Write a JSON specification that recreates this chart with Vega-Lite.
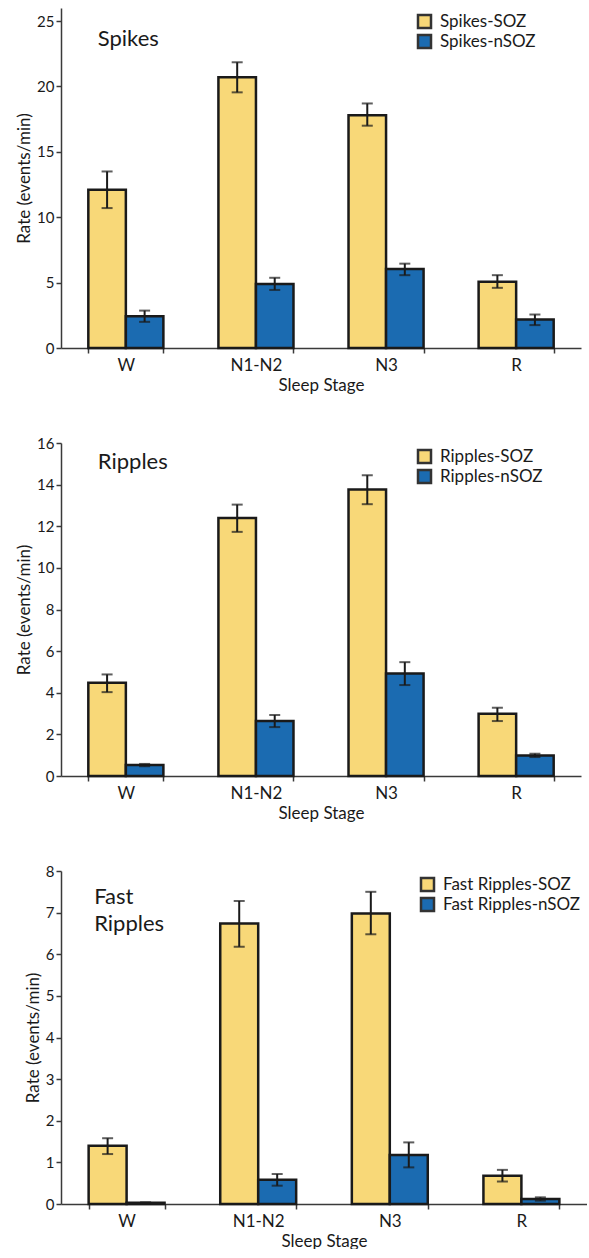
{
  "$schema": "https://vega.github.io/schema/vega-lite/v6.json",
  "background": "white",
  "padding": {"left": 15, "top": 8, "right": 0, "bottom": 0},
  "spacing": 43,
  "resolve": {"scale": {"fill": "independent", "y": "independent", "x": "independent", "xOffset": "independent"}},
  "config": {
    "font": "Lato",
    "view": {"stroke": null},
    "axis": {"grid": false, "domainColor": "#3a3a3a", "tickColor": "#3a3a3a", "domainWidth": 1.5, "tickWidth": 1.5, "labelColor": "#1a1a1a", "titleColor": "#1a1a1a", "labelFont": "Lato", "titleFont": "Lato", "titleFontWeight": "normal", "titleFontSize": 17},
    "axisX": {"labelAngle": 0, "tickSize": 5, "labelPadding": 4, "titlePadding": 4, "tickBand": "extent", "labelFontSize": 17},
    "axisY": {"tickSize": 5, "labelPadding": 2, "titlePadding": 3, "labelFontSize": 15},
    "legend": {"orient": "none", "legendX": 355, "legendY": 5, "title": null, "symbolType": "square", "symbolSize": 169, "symbolStrokeColor": "#333", "symbolStrokeWidth": 1.5, "labelFont": "Lato", "labelFontSize": 17, "labelColor": "#1a1a1a", "rowPadding": -6, "labelOffset": 7},
    "bar": {"stroke": "#1a1a1a", "strokeWidth": 2.5},
    "rule": {"color": "#1a1a1a", "strokeWidth": 2},
    "tick": {"color": "#1a1a1a", "thickness": 2, "size": 11},
    "text": {"font": "Lato", "fontSize": 22, "color": "#1a1a1a", "align": "left", "baseline": "alphabetic", "lineHeight": 27}
  },
  "vconcat": [
    {
      "width": 520, "height": 340,
      "data": {"values": [
        {"stage": "W", "series": "Spikes-SOZ", "rate": 12.1, "lo": 10.7, "hi": 13.5},
        {"stage": "W", "series": "Spikes-nSOZ", "rate": 2.43, "lo": 2.0, "hi": 2.86},
        {"stage": "N1-N2", "series": "Spikes-SOZ", "rate": 20.7, "lo": 19.55, "hi": 21.85},
        {"stage": "N1-N2", "series": "Spikes-nSOZ", "rate": 4.9, "lo": 4.44, "hi": 5.37},
        {"stage": "N3", "series": "Spikes-SOZ", "rate": 17.8, "lo": 17.0, "hi": 18.7},
        {"stage": "N3", "series": "Spikes-nSOZ", "rate": 6.05, "lo": 5.57, "hi": 6.45},
        {"stage": "R", "series": "Spikes-SOZ", "rate": 5.07, "lo": 4.6, "hi": 5.57},
        {"stage": "R", "series": "Spikes-nSOZ", "rate": 2.18, "lo": 1.75, "hi": 2.56}
      ]},
      "encoding": {
        "x": {"field": "stage", "type": "nominal", "sort": ["W", "N1-N2", "N3", "R"], "scale": {"paddingInner": 0.423, "paddingOuter": 0.21}, "axis": {"title": "Sleep Stage"}}
      },
      "layer": [
        {"mark": {"type": "bar"}, "encoding": {
          "xOffset": {"field": "series", "type": "nominal", "sort": ["Spikes-SOZ", "Spikes-nSOZ"], "scale": {"paddingInner": 0, "paddingOuter": 0}},
          "y": {"field": "rate", "type": "quantitative", "scale": {"domain": [0, 25]}, "axis": {"values": [0, 5, 10, 15, 20, 25], "title": "Rate (events/min)"}},
          "fill": {"field": "series", "type": "nominal", "sort": ["Spikes-SOZ", "Spikes-nSOZ"], "scale": {"domain": ["Spikes-SOZ", "Spikes-nSOZ"], "range": ["#F8D878", "#1B6BB1"]}}
        }},
        {"mark": {"type": "rule"}, "encoding": {"xOffset": {"field": "series", "type": "nominal", "sort": ["Spikes-SOZ", "Spikes-nSOZ"]}, "y": {"field": "lo", "type": "quantitative"}, "y2": {"field": "hi"}}},
        {"mark": {"type": "tick"}, "encoding": {"xOffset": {"field": "series", "type": "nominal", "sort": ["Spikes-SOZ", "Spikes-nSOZ"]}, "y": {"field": "lo", "type": "quantitative"}}},
        {"mark": {"type": "tick"}, "encoding": {"xOffset": {"field": "series", "type": "nominal", "sort": ["Spikes-SOZ", "Spikes-nSOZ"]}, "y": {"field": "hi", "type": "quantitative"}}},
        {"data": {"values": [{"label": "Spikes"}]}, "mark": {"type": "text", "dx": 9.5}, "encoding": {"text": {"field": "label"}, "x": {"datum": "W", "bandPosition": 0}, "y": {"datum": 23.1, "type": "quantitative"}}}
      ]
    },
    {
      "width": 520, "height": 333,
      "data": {"values": [
        {"stage": "W", "series": "Ripples-SOZ", "rate": 4.48, "lo": 4.03, "hi": 4.88},
        {"stage": "W", "series": "Ripples-nSOZ", "rate": 0.53, "lo": 0.47, "hi": 0.58},
        {"stage": "N1-N2", "series": "Ripples-SOZ", "rate": 12.4, "lo": 11.73, "hi": 13.04},
        {"stage": "N1-N2", "series": "Ripples-nSOZ", "rate": 2.64, "lo": 2.35, "hi": 2.93},
        {"stage": "N3", "series": "Ripples-SOZ", "rate": 13.76, "lo": 13.06, "hi": 14.45},
        {"stage": "N3", "series": "Ripples-nSOZ", "rate": 4.93, "lo": 4.37, "hi": 5.47},
        {"stage": "R", "series": "Ripples-SOZ", "rate": 2.99, "lo": 2.64, "hi": 3.28},
        {"stage": "R", "series": "Ripples-nSOZ", "rate": 0.99, "lo": 0.91, "hi": 1.07}
      ]},
      "encoding": {
        "x": {"field": "stage", "type": "nominal", "sort": ["W", "N1-N2", "N3", "R"], "scale": {"paddingInner": 0.423, "paddingOuter": 0.21}, "axis": {"title": "Sleep Stage"}}
      },
      "layer": [
        {"mark": {"type": "bar"}, "encoding": {
          "xOffset": {"field": "series", "type": "nominal", "sort": ["Ripples-SOZ", "Ripples-nSOZ"], "scale": {"paddingInner": 0, "paddingOuter": 0}},
          "y": {"field": "rate", "type": "quantitative", "scale": {"domain": [0, 16]}, "axis": {"values": [0, 2, 4, 6, 8, 10, 12, 14, 16], "title": "Rate (events/min)"}},
          "fill": {"field": "series", "type": "nominal", "sort": ["Ripples-SOZ", "Ripples-nSOZ"], "scale": {"domain": ["Ripples-SOZ", "Ripples-nSOZ"], "range": ["#F8D878", "#1B6BB1"]}}
        }},
        {"mark": {"type": "rule"}, "encoding": {"xOffset": {"field": "series", "type": "nominal", "sort": ["Ripples-SOZ", "Ripples-nSOZ"]}, "y": {"field": "lo", "type": "quantitative"}, "y2": {"field": "hi"}}},
        {"mark": {"type": "tick"}, "encoding": {"xOffset": {"field": "series", "type": "nominal", "sort": ["Ripples-SOZ", "Ripples-nSOZ"]}, "y": {"field": "lo", "type": "quantitative"}}},
        {"mark": {"type": "tick"}, "encoding": {"xOffset": {"field": "series", "type": "nominal", "sort": ["Ripples-SOZ", "Ripples-nSOZ"]}, "y": {"field": "hi", "type": "quantitative"}}},
        {"data": {"values": [{"label": "Ripples"}]}, "mark": {"type": "text", "dx": 9.5}, "encoding": {"text": {"field": "label"}, "x": {"datum": "W", "bandPosition": 0}, "y": {"datum": 14.76, "type": "quantitative"}}}
      ]
    },
    {
      "width": 526, "height": 333,
      "data": {"values": [
        {"stage": "W", "series": "Fast Ripples-SOZ", "rate": 1.4, "lo": 1.2, "hi": 1.58},
        {"stage": "W", "series": "Fast Ripples-nSOZ", "rate": 0.03, "lo": 0.02, "hi": 0.04},
        {"stage": "N1-N2", "series": "Fast Ripples-SOZ", "rate": 6.74, "lo": 6.18, "hi": 7.28},
        {"stage": "N1-N2", "series": "Fast Ripples-nSOZ", "rate": 0.58, "lo": 0.44, "hi": 0.72},
        {"stage": "N3", "series": "Fast Ripples-SOZ", "rate": 6.98, "lo": 6.48, "hi": 7.5},
        {"stage": "N3", "series": "Fast Ripples-nSOZ", "rate": 1.18, "lo": 0.88, "hi": 1.48},
        {"stage": "R", "series": "Fast Ripples-SOZ", "rate": 0.68, "lo": 0.54, "hi": 0.82},
        {"stage": "R", "series": "Fast Ripples-nSOZ", "rate": 0.12, "lo": 0.08, "hi": 0.16}
      ]},
      "encoding": {
        "x": {"field": "stage", "type": "nominal", "sort": ["W", "N1-N2", "N3", "R"], "scale": {"paddingInner": 0.423, "paddingOuter": 0.21}, "axis": {"title": "Sleep Stage"}}
      },
      "layer": [
        {"mark": {"type": "bar"}, "encoding": {
          "xOffset": {"field": "series", "type": "nominal", "sort": ["Fast Ripples-SOZ", "Fast Ripples-nSOZ"], "scale": {"paddingInner": 0, "paddingOuter": 0}},
          "y": {"field": "rate", "type": "quantitative", "scale": {"domain": [0, 8]}, "axis": {"values": [0, 1, 2, 3, 4, 5, 6, 7, 8], "title": "Rate (events/min)"}},
          "fill": {"field": "series", "type": "nominal", "sort": ["Fast Ripples-SOZ", "Fast Ripples-nSOZ"], "scale": {"domain": ["Fast Ripples-SOZ", "Fast Ripples-nSOZ"], "range": ["#F8D878", "#1B6BB1"]}, "legend": {"legendX": 358}}
        }},
        {"mark": {"type": "rule"}, "encoding": {"xOffset": {"field": "series", "type": "nominal", "sort": ["Fast Ripples-SOZ", "Fast Ripples-nSOZ"]}, "y": {"field": "lo", "type": "quantitative"}, "y2": {"field": "hi"}}},
        {"mark": {"type": "tick"}, "encoding": {"xOffset": {"field": "series", "type": "nominal", "sort": ["Fast Ripples-SOZ", "Fast Ripples-nSOZ"]}, "y": {"field": "lo", "type": "quantitative"}}},
        {"mark": {"type": "tick"}, "encoding": {"xOffset": {"field": "series", "type": "nominal", "sort": ["Fast Ripples-SOZ", "Fast Ripples-nSOZ"]}, "y": {"field": "hi", "type": "quantitative"}}},
        {"data": {"values": [{"label": ["Fast", "Ripples"]}]}, "mark": {"type": "text", "dx": 5.5}, "encoding": {"text": {"field": "label"}, "x": {"datum": "W", "bandPosition": 0}, "y": {"datum": 7.2, "type": "quantitative"}}}
      ]
    }
  ]
}
